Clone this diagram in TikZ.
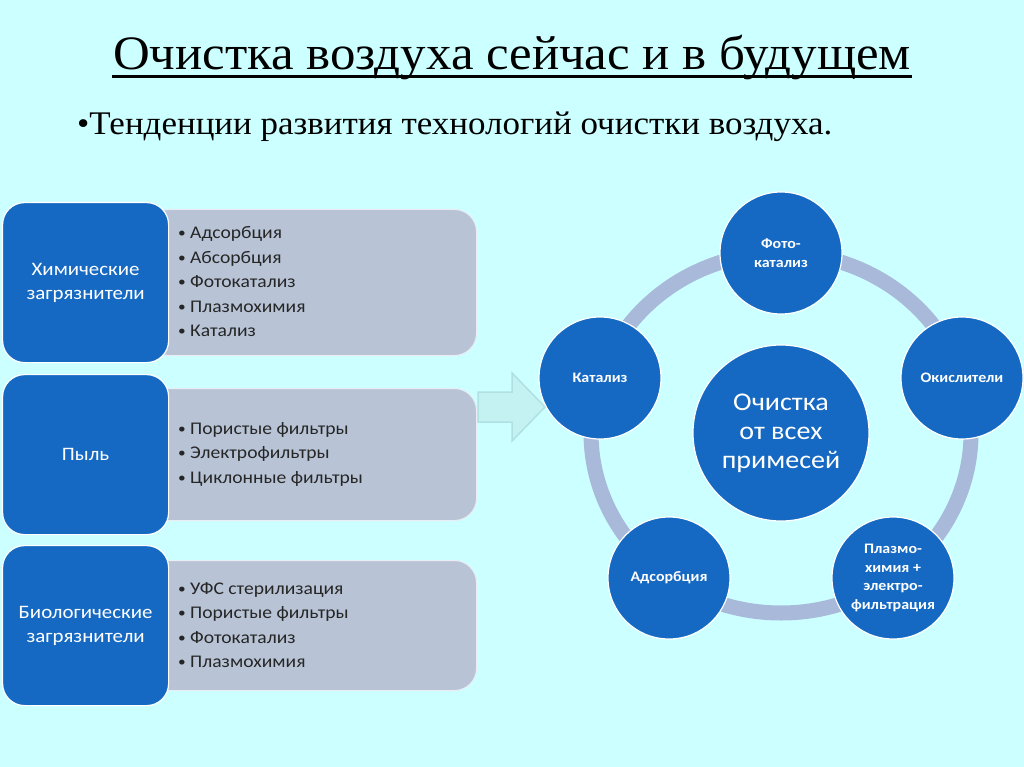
\documentclass[tikz,border=0pt]{standalone}
\usepackage{fontspec}
\setmainfont{Liberation Serif}[FakeStretch=1.06]
\newfontfamily\carl{Carlito}[FakeStretch=1.1]
\usetikzlibrary{positioning}
\definecolor{bg}{HTML}{CCFFFF}
\definecolor{blu}{HTML}{1569C2}
\definecolor{gry}{HTML}{B8C4D6}
\definecolor{ring}{HTML}{A9B9DA}
\definecolor{arrfill}{HTML}{C4F2F2}
\definecolor{arrdraw}{HTML}{B0E0E2}
\tikzset{
  bluebox/.style={fill=blu,draw=white,line width=1.2pt,rounded corners=22pt,minimum width=166pt,minimum height=160pt,anchor=north west,inner sep=0pt,text=white,align=center,font=\carl\fontsize{19}{24}\selectfont},
  graybox/.style={fill=gry,draw=white!70!gry,line width=1pt,rounded corners=22pt,minimum width=330pt,anchor=north west,inner sep=0pt},
  listtxt/.style={anchor=west,align=left,inner sep=0pt,font=\carl\fontsize{17.8}{24.5}\selectfont,text=black!85},
  outer/.style={circle,fill=blu,draw=white,line width=1.2pt,minimum size=122pt,inner sep=0pt,text=white,align=center,font=\carl\bfseries\fontsize{14.5}{18.5}\selectfont},
  center/.style={circle,fill=blu,draw=white,line width=1.2pt,minimum size=176pt,inner sep=0pt,text=white,align=center,font=\carl\fontsize{25.5}{29}\selectfont},
}
\newcommand{\bul}{\makebox[12pt][l]{\fontsize{14}{14}\selectfont\raisebox{1pt}{\textbullet}}}
\begin{document}
\begin{tikzpicture}[x=1pt,y=-1pt]
\useasboundingbox (0,0) rectangle (1024,767);
\fill[bg] (0,0) rectangle (1024,767);
% title
\node[font=\fontsize{48}{56}\selectfont,anchor=base,inner xsep=1pt] (title) at (512,70) {Очистка воздуха сейчас и в будущем};
\draw[line width=2.4pt] ([yshift=-6.5pt]title.base west) -- ([yshift=-6.5pt]title.base east);
\node[font=\fontsize{33}{40}\selectfont,anchor=base west,inner sep=0pt] (sub) at (77,135) {•Тенденции развития технологий очистки воздуха.};
% group 1
\node[graybox,minimum height=146pt] (g1) at (146,209) {};
\node[bluebox] (b1) at (2,202) {Химические\\загрязнители};
\node[listtxt] (l1) at (178,282) {\bul Адсорбция\\\bul Абсорбция\\\bul Фотокатализ\\\bul Плазмохимия\\\bul Катализ};
% group 2
\node[graybox,minimum height=132pt] (g2) at (146,388) {};
\node[bluebox] (b2) at (2,374) {Пыль};
\node[listtxt] (l2) at (178,454) {\bul Пористые фильтры\\\bul Электрофильтры\\\bul Циклонные фильтры};
% group 3
\node[graybox,minimum height=130pt] (g3) at (146,560) {};
\node[bluebox] (b3) at (2,545) {Биологические\\загрязнители};
\node[listtxt] (l3) at (178,625) {\bul УФС стерилизация\\\bul Пористые фильтры\\\bul Фотокатализ\\\bul Плазмохимия};
% arrow
\draw[fill=arrfill,draw=arrdraw,line width=1.5pt,line join=miter]
  (478,392) -- (512,392) -- (512,373) -- (545,407) -- (512,441) -- (512,422) -- (478,422) -- cycle;
% ring
\draw[ring,line width=15pt] (781,433) ellipse [x radius=190, y radius=180];
% circles
\node[center] (c) at (781,433) {Очистка\\от всех\\примесей};
\node[outer] (top) at (781,253) {Фото-\\катализ};
\node[outer] (left) at (600,378) {Катализ};
\node[outer] (right) at (962,378) {Окислители};
\node[outer] (bl) at (669,578) {Адсорбция};
\node[outer] (br) at (893,578) {Плазмо-\\химия +\\электро-\\фильтрация};
\end{tikzpicture}
\end{document}
